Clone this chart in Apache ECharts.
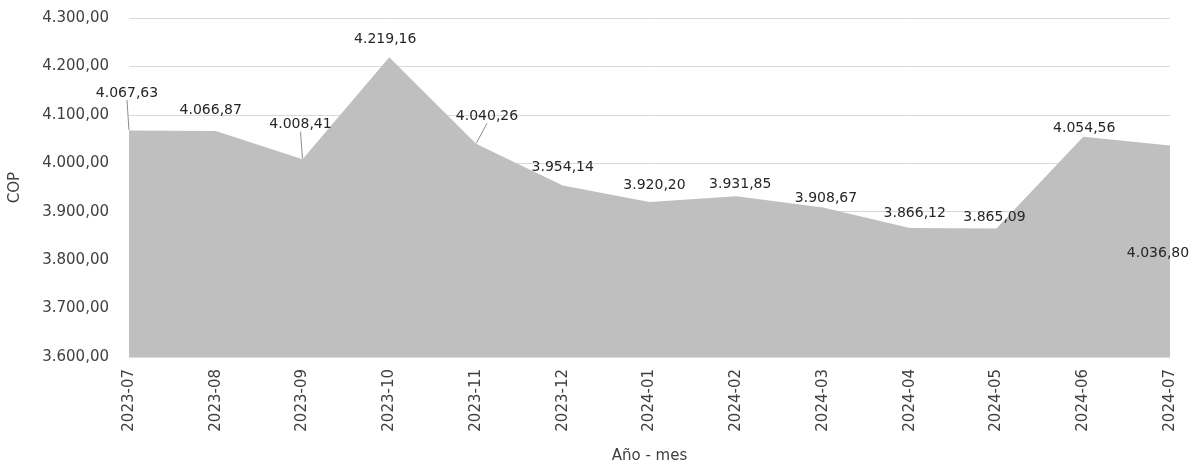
<!DOCTYPE html>
<html>
<head>
<meta charset="utf-8">
<script src="https://cdn.jsdelivr.net/npm/echarts@6/dist/echarts.min.js"></script>
<style>
  html, body { margin: 0; padding: 0; background: #fff; }
  #chart { width: 1190px; height: 469px; }
</style>
</head>
<body>
<div id="chart"></div>
<script>
const months = ['2023-07', '2023-08', '2023-09', '2023-10', '2023-11', '2023-12', '2024-01',
  '2024-02', '2024-03', '2024-04', '2024-05', '2024-06', '2024-07'];
const copValues = [4067.63, 4066.87, 4008.41, 4219.16, 4040.26, 3954.14, 3920.20,
  3931.85, 3908.67, 3866.12, 3865.09, 4054.56, 4036.80];

// where each data label sits relative to its point (px), and which get a leader line
const labelShift = [[-2, -25], [-5, -8], [-2, -22], [-4, -5], [11, -15], [0, -6], [5, -4],
  [4, 1], [3, 3], [5, -2], [-2, 1], [1, 4], [-12, 120]];
const withLeader = [0, 2, 4];

const FONT = 'DejaVu Sans';
const fmt = (v) => v.toLocaleString('de-DE', { minimumFractionDigits: 2, maximumFractionDigits: 2 });

const chart = echarts.init(document.getElementById('chart'));

chart.setOption({
  animation: false,
  textStyle: { fontFamily: FONT },
  grid: { left: 129, right: 20, top: 18, bottom: 112, outerBoundsMode: 'none', containLabel: false },
  xAxis: {
    type: 'category',
    data: months,
    boundaryGap: false,
    name: 'Año - mes',
    nameLocation: 'middle',
    nameGap: 92,
    nameTextStyle: { color: '#404040', fontSize: 15, fontFamily: FONT },
    axisLine: { show: false },
    axisTick: { show: false },
    axisLabel: { rotate: 90, color: '#404040', fontSize: 15, margin: 12, fontFamily: FONT }
  },
  yAxis: {
    type: 'value',
    min: 3600,
    max: 4300,
    interval: 100,
    name: 'COP',
    nameLocation: 'middle',
    nameGap: 106,
    nameTextStyle: { color: '#404040', fontSize: 15, fontFamily: FONT },
    axisLabel: { color: '#404040', fontSize: 15, margin: 20, formatter: fmt, fontFamily: FONT },
    splitLine: { lineStyle: { color: '#d9d9d9', width: 1 } }
  },
  series: [
    {
      type: 'line',
      data: copValues.map((v, i) => ({
        value: v,
        labelLine: { show: withLeader.includes(i) }
      })),
      symbol: 'circle',
      symbolSize: 1,
      itemStyle: { color: 'rgba(0,0,0,0)' },
      lineStyle: { width: 0 },
      areaStyle: { color: '#bfbfbf', opacity: 1 },
      label: {
        show: true,
        position: 'top',
        color: '#262626',
        fontSize: 14,
        fontFamily: FONT,
        formatter: (p) => fmt(p.value)
      },
      labelLine: { lineStyle: { color: '#8c8c8c', width: 1 } },
      labelLayout: (p) => ({ dx: labelShift[p.dataIndex][0], dy: labelShift[p.dataIndex][1] })
    }
  ]
});
</script>
</body>
</html>
